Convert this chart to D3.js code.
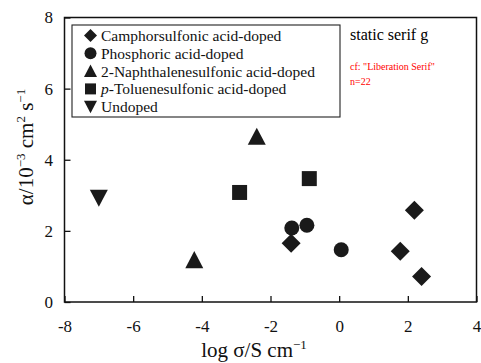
<!DOCTYPE html>
<html>
<head>
<meta charset="utf-8">
<script src="https://cdn.jsdelivr.net/npm/d3@7"></script>
</head>
<body style="margin:0">
<svg id="chart" width="481" height="363">
<text x="350" y="40" font-family="Liberation Serif" font-size="16">static serif g</text>
</svg>
<script>
// series names as in the legend
var seriesNames = ['Camphorsulfonic acid-doped', 'Phosphoric acid-doped',
                   '2-Naphthalenesulfonic acid-doped', 'p-Toluenesulfonic acid-doped', 'Undoped'];
var seriesShapes = ['diamond', 'circle', 'triangle', 'square', 'down'];

// log sigma (x) and alpha (y) per series
var camphorX = [-1.4, 1.78, 2.19, 2.4];
var camphorY = [1.65, 1.43, 2.58, 0.72];
var phosX = [-1.38, -0.94, 0.06];
var phosY = [2.08, 2.16, 1.47];
var naphX = [-4.22, -2.4];
var naphY = [1.18, 4.65];
var tolX = [-2.9, -0.87];
var tolY = [3.08, 3.47];
var undopedX = [-7.0];
var undopedY = [2.93];

var xTicks = [-8, -6, -4, -2, 0, 2, 4];
var yTicks = [0, 2, 4, 6, 8];

var FONT = 'Liberation Serif';
var width = 481, height = 363;
var margin = { left: 64.5, right: 4.5, top: 17.5, bottom: 61 };

var svg = d3.select('#chart');

var xScale = d3.scaleLinear().domain([-8, 4]).range([margin.left, width - margin.right]);
var yScale = d3.scaleLinear().domain([0, 8]).range([height - margin.bottom, margin.top]);

var shapes = {
    diamond: { draw: function(ctx, size) {
        var r = Math.sqrt(size) / 2;
        ctx.moveTo(0, -r); ctx.lineTo(r, 0); ctx.lineTo(0, r); ctx.lineTo(-r, 0); ctx.closePath();
    }},
    circle: { draw: function(ctx, size) {
        var r = Math.sqrt(size) / 2;
        ctx.moveTo(r, 0); ctx.arc(0, 0, r, 0, 2 * Math.PI);
    }},
    triangle: { draw: function(ctx, size) {
        var r = Math.sqrt(size) / 2;
        ctx.moveTo(0, -r); ctx.lineTo(r, r * 0.9); ctx.lineTo(-r, r * 0.9); ctx.closePath();
    }},
    square: { draw: function(ctx, size) {
        var r = Math.sqrt(size) / 2;
        ctx.rect(-r, -r, 2 * r, 2 * r);
    }},
    down: { draw: function(ctx, size) {
        var r = Math.sqrt(size) / 2;
        ctx.moveTo(0, r); ctx.lineTo(r, -r * 0.9); ctx.lineTo(-r, -r * 0.9); ctx.closePath();
    }}
};
var plotSize = { diamond: 19 * 19, circle: 15 * 15, triangle: 18 * 18, square: 15 * 15, down: 18 * 18 };
var legendSize = { diamond: 13 * 13, circle: 12 * 12, triangle: 13 * 13, square: 11 * 11, down: 13 * 13 };

var xAxis = d3.axisBottom(xScale).tickValues(xTicks).tickFormat((d) => String(d))
              .tickSizeInner(-6).tickSizeOuter(0).tickPadding(18);
var yAxis = d3.axisLeft(yScale).tickValues(yTicks).tickFormat((d) => String(d))
              .tickSizeInner(-6).tickSizeOuter(0).tickPadding(11.5);

var gx = svg.append('g')
            .attr('transform', `translate(0, ${yScale(0)})`)
            .call(xAxis);
var gy = svg.append('g')
            .attr('transform', `translate(${xScale(-8)}, 0)`)
            .call(yAxis);
[gx, gy].forEach(function(g) {
    g.attr('font-family', FONT).attr('font-size', 17);
    g.select('.domain').remove();
    g.selectAll('line').attr('stroke', '#111').attr('stroke-width', 1.3);
    g.selectAll('text').attr('fill', '#111');
});

svg.append('rect')
   .attr('x', xScale(-8)).attr('y', yScale(8))
   .attr('width', xScale(4) - xScale(-8))
   .attr('height', yScale(0) - yScale(8))
   .attr('fill', 'none').attr('stroke', '#111').attr('stroke-width', 1.5);

var allSeries = [
    { shape: 'diamond', xs: camphorX, ys: camphorY },
    { shape: 'circle', xs: phosX, ys: phosY },
    { shape: 'triangle', xs: naphX, ys: naphY },
    { shape: 'square', xs: tolX, ys: tolY },
    { shape: 'down', xs: undopedX, ys: undopedY }
];
allSeries.forEach(function(s) {
    var pts = s.xs.map((x, i) => ({ x: x, y: s.ys[i] }));
    svg.selectAll('.pt-' + s.shape)
       .data(pts)
       .enter()
       .append('path')
       .attr('class', 'pt-' + s.shape)
       .attr('d', d3.symbol().type(shapes[s.shape]).size(plotSize[s.shape]))
       .attr('transform', (d) => `translate(${xScale(d.x)}, ${yScale(d.y)})`)
       .attr('fill', '#1a1a1a');
});

var legendBox = svg.append('g');
legendBox.append('rect')
         .attr('x', 72).attr('y', 25).attr('width', 268).attr('height', 92)
         .attr('fill', '#fff').attr('stroke', '#222').attr('stroke-width', 1.1);

var legend = legendBox.selectAll('.legend')
                      .data(seriesNames)
                      .enter()
                      .append('g')
                      .attr('class', 'legend')
                      .attr('transform', (d, i) => `translate(0, ${35.5 + i * 17.8})`);
legend.append('path')
      .attr('d', (d, i) => d3.symbol().type(shapes[seriesShapes[i]]).size(legendSize[seriesShapes[i]])())
      .attr('transform', 'translate(90.5, 0)')
      .attr('fill', '#1a1a1a');
var legendText = legend.append('text')
      .attr('x', 101)
      .attr('y', 0)
      .attr('dy', '0.35em')
      .attr('font-family', FONT)
      .attr('font-size', 15.5)
      .attr('fill', '#111');
legendText.each(function(d) {
    var t = d3.select(this);
    if (d.indexOf('p-') === 0) {
        t.append('tspan').attr('font-style', 'italic').text('p');
        t.append('tspan').text(d.slice(1));
    } else {
        t.text(d);
    }
});

var xTitle = svg.append('text')
                .attr('x', 254).attr('y', 356.5)
                .attr('text-anchor', 'middle')
                .attr('font-family', FONT)
                .attr('font-size', 21)
                .attr('fill', '#111');
xTitle.append('tspan').text('log σ/S cm');
xTitle.append('tspan').attr('dy', -8).attr('font-size', 13).text('−1');

var yTitle = svg.append('text')
                .attr('transform', 'translate(33, 147) rotate(-90)')
                .attr('text-anchor', 'middle')
                .attr('font-family', FONT)
                .attr('font-size', 21)
                .attr('fill', '#111');
yTitle.append('tspan').text('α/10');
yTitle.append('tspan').attr('dy', -8).attr('font-size', 13).text('−3');
yTitle.append('tspan').attr('dy', 8).text(' cm');
yTitle.append('tspan').attr('dy', -8).attr('font-size', 13).text('2');
yTitle.append('tspan').attr('dy', 8).text(' s');
yTitle.append('tspan').attr('dy', -8).attr('font-size', 13).text('−1');

// debug: computed font
svg.append('text').attr('x', 350).attr('y', 70).attr('font-size', 10).attr('fill', 'red')
   .text('cf: ' + getComputedStyle(xTitle.node()).fontFamily);
svg.append('text').attr('x', 350).attr('y', 85).attr('font-size', 10).attr('fill', 'red')
   .text('n=' + svg.selectAll('text').size());
</script>
</body>
</html>
